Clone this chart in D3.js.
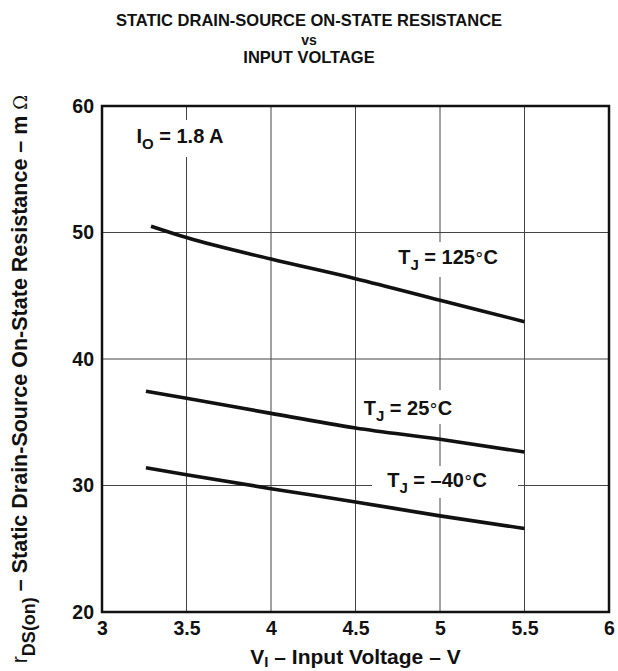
<!DOCTYPE html>
<html>
<head>
<meta charset="utf-8">
<script src="https://cdn.jsdelivr.net/npm/d3@7"></script>
<style>
  html, body { margin: 0; padding: 0; background: #fff; }
  svg { display: block; font-family: "Liberation Sans", Arial, Helvetica, sans-serif; }
</style>
</head>
<body>
<svg id="chart" width="618" height="671"></svg>
<script>
// Input voltage (V) sample points and rDS(on) (mΩ) per junction temperature
const vin125 = [3.29, 3.5, 4.0, 4.5, 5.0, 5.5];
const rds125 = [50.5, 49.6, 47.9, 46.35, 44.65, 42.95];
const vin25 = [3.26, 3.5, 4.0, 4.5, 5.0, 5.5];
const rds25 = [37.45, 36.9, 35.7, 34.55, 33.65, 32.65];
const vinM40 = [3.26, 3.5, 4.0, 4.5, 5.0, 5.5];
const rdsM40 = [31.4, 30.85, 29.75, 28.7, 27.6, 26.6];

const xTicks = [3, 3.5, 4, 4.5, 5, 5.5, 6];
const xTickLabels = ["3", "3.5", "4", "4.5", "5", "5.5", "6"];
const yTicks = [20, 30, 40, 50, 60];
const yTickLabels = ["20", "30", "40", "50", "60"];

const margin = { left: 102, right: 9, top: 106, bottom: 59 };
const W = 618, H = 671;
const svg = d3.select("#chart");
const ink = "#111";

const x = d3.scaleLinear().domain([3, 6]).range([margin.left, W - margin.right]);
const y = d3.scaleLinear().domain([20, 60]).range([H - margin.bottom, margin.top]);

// Title
const title = svg.append("g").attr("font-weight", "bold").attr("text-anchor", "middle").attr("fill", ink);
title.append("text").attr("x", 309).attr("y", 26).attr("font-size", 16.5).text("STATIC DRAIN-SOURCE ON-STATE RESISTANCE");
title.append("text").attr("x", 309).attr("y", 45).attr("font-size", 14).text("vs");
title.append("text").attr("x", 309).attr("y", 63).attr("font-size", 16.5).text("INPUT VOLTAGE");

// Grid
const grid = svg.append("g").attr("stroke", "#444").attr("stroke-width", 1);
grid.selectAll("line.gx").data(xTicks.slice(1, -1)).join("line")
  .attr("x1", d => x(d)).attr("x2", d => x(d))
  .attr("y1", y(60)).attr("y2", y(20));
grid.selectAll("line.gy").data(yTicks.slice(1, -1)).join("line")
  .attr("y1", d => y(d)).attr("y2", d => y(d))
  .attr("x1", x(3)).attr("x2", x(6));

// Axes (labels only, no tick marks)
const xAxis = d3.axisBottom(x).tickValues(xTicks).tickSize(0).tickPadding(9)
  .tickFormat((d, i) => xTickLabels[i]);
const gx = svg.append("g").attr("transform", `translate(0,${y(20)})`).call(xAxis);
gx.select(".domain").remove();
gx.selectAll("text").attr("font-size", 19.5).attr("font-weight", "bold").attr("fill", ink)
  .attr("font-family", "Liberation Sans, Arial, sans-serif");

const yAxis = d3.axisLeft(y).tickValues(yTicks).tickSize(0).tickPadding(8)
  .tickFormat((d, i) => yTickLabels[i]);
const gy = svg.append("g").attr("transform", `translate(${x(3)},0)`).call(yAxis);
gy.select(".domain").remove();
gy.selectAll("text").attr("font-size", 19.5).attr("font-weight", "bold").attr("fill", ink)
  .attr("font-family", "Liberation Sans, Arial, sans-serif");

// Annotation labels with white backing that interrupts the grid
function label(cx, cy, box, parts) {
  const g = svg.append("g");
  g.append("rect").attr("x", box[0]).attr("y", box[1])
    .attr("width", box[2] - box[0]).attr("height", box[3] - box[1]).attr("fill", "#fff");
  const t = g.append("text").attr("x", cx).attr("y", cy).attr("text-anchor", "middle")
    .attr("font-size", 20).attr("font-weight", "bold").attr("fill", ink);
  parts.forEach(p => {
    const s = t.append("tspan").text(p.t);
    if (p.sub) s.attr("font-size", 15).attr("dy", 6);
    if (p.up) s.attr("dy", -6);
    if (p.normal) s.attr("font-weight", "normal").attr("font-family", "DejaVu Serif, serif").attr("font-size", 17);
  });
}
label(180, 143, [126, 120, 236, 157], [
  { t: "I" }, { t: "O", sub: true }, { t: " = 1.8 A", up: true }
]);
label(448, 264, [390, 242, 510, 277], [
  { t: "T" }, { t: "J", sub: true }, { t: " = 125", up: true }, { t: "°", normal: true }, { t: "C" }
]);
label(408, 415, [359, 390, 470, 424], [
  { t: "T" }, { t: "J", sub: true }, { t: " = 25", up: true }, { t: "°", normal: true }, { t: "C" }
]);
label(437, 487, [372, 466, 518, 498], [
  { t: "T" }, { t: "J", sub: true }, { t: " = –40", up: true }, { t: "°", normal: true }, { t: "C" }
]);

// Curves
const line = d3.line().x(d => x(d[0])).y(d => y(d[1])).curve(d3.curveMonotoneX);
const series = [
  d3.zip(vin125, rds125),
  d3.zip(vin25, rds25),
  d3.zip(vinM40, rdsM40)
];
svg.append("g").selectAll("path").data(series).join("path")
  .attr("d", line).attr("fill", "none").attr("stroke", ink)
  .attr("stroke-width", 3.6).attr("stroke-linecap", "butt");

// Frame
svg.append("rect").attr("x", x(3)).attr("y", y(60))
  .attr("width", x(6) - x(3)).attr("height", y(20) - y(60))
  .attr("fill", "none").attr("stroke", ink).attr("stroke-width", 2.5);

// X axis title
const xt = svg.append("text").attr("x", (x(3) + x(6)) / 2).attr("y", 664)
  .attr("text-anchor", "middle").attr("font-size", 21).attr("font-weight", "bold").attr("fill", ink);
xt.append("tspan").text("V");
xt.append("tspan").text("I").attr("font-size", 15).attr("dy", 3);
xt.append("tspan").text(" – Input Voltage – V").attr("dy", -3);

// Y axis title
const yt = svg.append("text").attr("transform", "translate(27,379) rotate(-90)")
  .attr("text-anchor", "middle").attr("font-size", 21.5).attr("font-weight", "bold").attr("fill", ink);
yt.append("tspan").text("r").attr("font-weight", "normal");
yt.append("tspan").text("DS(on)").attr("font-size", 18).attr("dy", 8);
yt.append("tspan").text(" – Static Drain-Source On-State Resistance – m ").attr("dy", -8);
yt.append("tspan").text("Ω").attr("font-weight", "normal").attr("font-family", "DejaVu Serif, serif").attr("font-size", 18);
</script>
</body>
</html>
